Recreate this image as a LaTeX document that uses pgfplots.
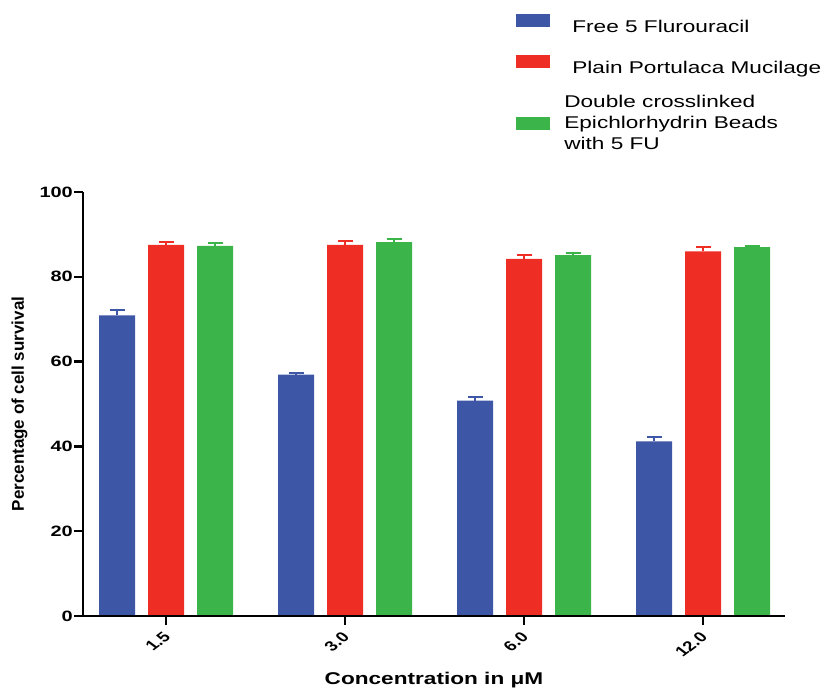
\documentclass[border=0pt]{standalone}
\usepackage{pgfplots}
\pgfplotsset{compat=1.18}
\usepackage{fontspec}
\setmainfont{Liberation Sans}
\definecolor{cblue}{RGB}{61,86,166}
\definecolor{cred}{RGB}{238,45,36}
\definecolor{cgreen}{RGB}{59,181,74}
\newcommand\sx[1]{\scalebox{1.33}[1]{#1}}
\pgfplotsset{
  mylegend/.style={legend image code/.code={\draw[##1,draw=none] (0pt,-1pt) rectangle (34pt,12pt);}}}
\begin{document}
\begin{tikzpicture}
\path[use as bounding box] (0pt,0pt) rectangle (824pt,689pt);
\begin{axis}[
  at={(83pt,73pt)}, anchor=south west,
  scale only axis, width=702pt, height=424pt,
  xmin=-0.464, xmax=3.458, ymin=0, ymax=100,
  axis x line*=bottom, axis y line*=left,
  axis line style={line width=2.5pt,-},
  every tick/.style={line width=2.5pt, black},
  major tick length=9pt,
  tick align=outside, tick pos=left,
  axis on top, clip=false,
  ybar=13pt, bar width=36pt,
  xtick={0,1,2,3},
  xticklabels={1.5,3.0,6.0,12.0},
  xticklabel style={font=\fontsize{14}{16}\selectfont\bfseries, anchor=east, cm={0.94,0.7071,-0.94,0.7071,(2pt,-9pt)}, inner sep=1pt},
  ytick={0,20,40,60,80,100},
  yticklabels={\sx{0},\sx{20},\sx{40},\sx{60},\sx{80},\sx{100}},
  yticklabel style={font=\fontsize{15}{18}\selectfont\bfseries, inner sep=1pt},
  xlabel={\sx{Concentration in μM}},
  xlabel style={font=\fontsize{17}{20}\selectfont\bfseries, at={(axis description cs:0.5,-0.1627)}, anchor=base},
  ylabel={Percentage of cell survival},
  ylabel style={font=\fontsize{17}{20}\selectfont\bfseries, at={(axis description cs:-0.0905,0.5)}, anchor=center},
  legend style={draw=none, fill=none, at={(axis description cs:0.617,1.4203)}, anchor=north west, inner sep=0pt, row sep=21pt, column sep=14pt, font=\fontsize{17}{21}\selectfont, nodes={inner sep=0pt}},
  legend cell align=left,
]
\addplot[fill=cblue, draw=none, mylegend, error bars/.cd, y dir=plus, y explicit,
  error bar style={line width=2pt, cblue},
  error mark options={rotate=90, mark size=7.5pt, line width=2pt, cblue}]
  coordinates {(0,70.9) +- (0,1.3) (1,56.9) +- (0,0.4) (2,50.8) +- (0,0.8) (3,41.2) +- (0,1.1)};
\addlegendentry{\strut\hspace{8pt}\sx{Free 5 Flurouracil}}
\addplot[fill=cred, draw=none, mylegend, error bars/.cd, y dir=plus, y explicit,
  error bar style={line width=2pt, cred},
  error mark options={rotate=90, mark size=7.5pt, line width=2pt, cred}]
  coordinates {(0,87.5) +- (0,0.6) (1,87.5) +- (0,0.9) (2,84.2) +- (0,0.9) (3,86.0) +- (0,1.0)};
\addlegendentry{\strut\hspace{8pt}\sx{Plain Portulaca Mucilage}}
\addplot[fill=cgreen, draw=none, mylegend, error bars/.cd, y dir=plus, y explicit,
  error bar style={line width=2pt, cgreen},
  error mark options={rotate=90, mark size=7.5pt, line width=2pt, cgreen}]
  coordinates {(0,87.3) +- (0,0.7) (1,88.2) +- (0,0.7) (2,85.1) +- (0,0.5) (3,87.0) +- (0,0.3)};
\addlegendentry{\rule{0pt}{65pt}\raisebox{12pt}[0pt][6.3pt]{\sx{\begin{tabular}[b]{@{}l@{}}Double crosslinked\\Epichlorhydrin Beads\\with 5 FU\end{tabular}}}}
\end{axis}
\end{tikzpicture}
\end{document}
